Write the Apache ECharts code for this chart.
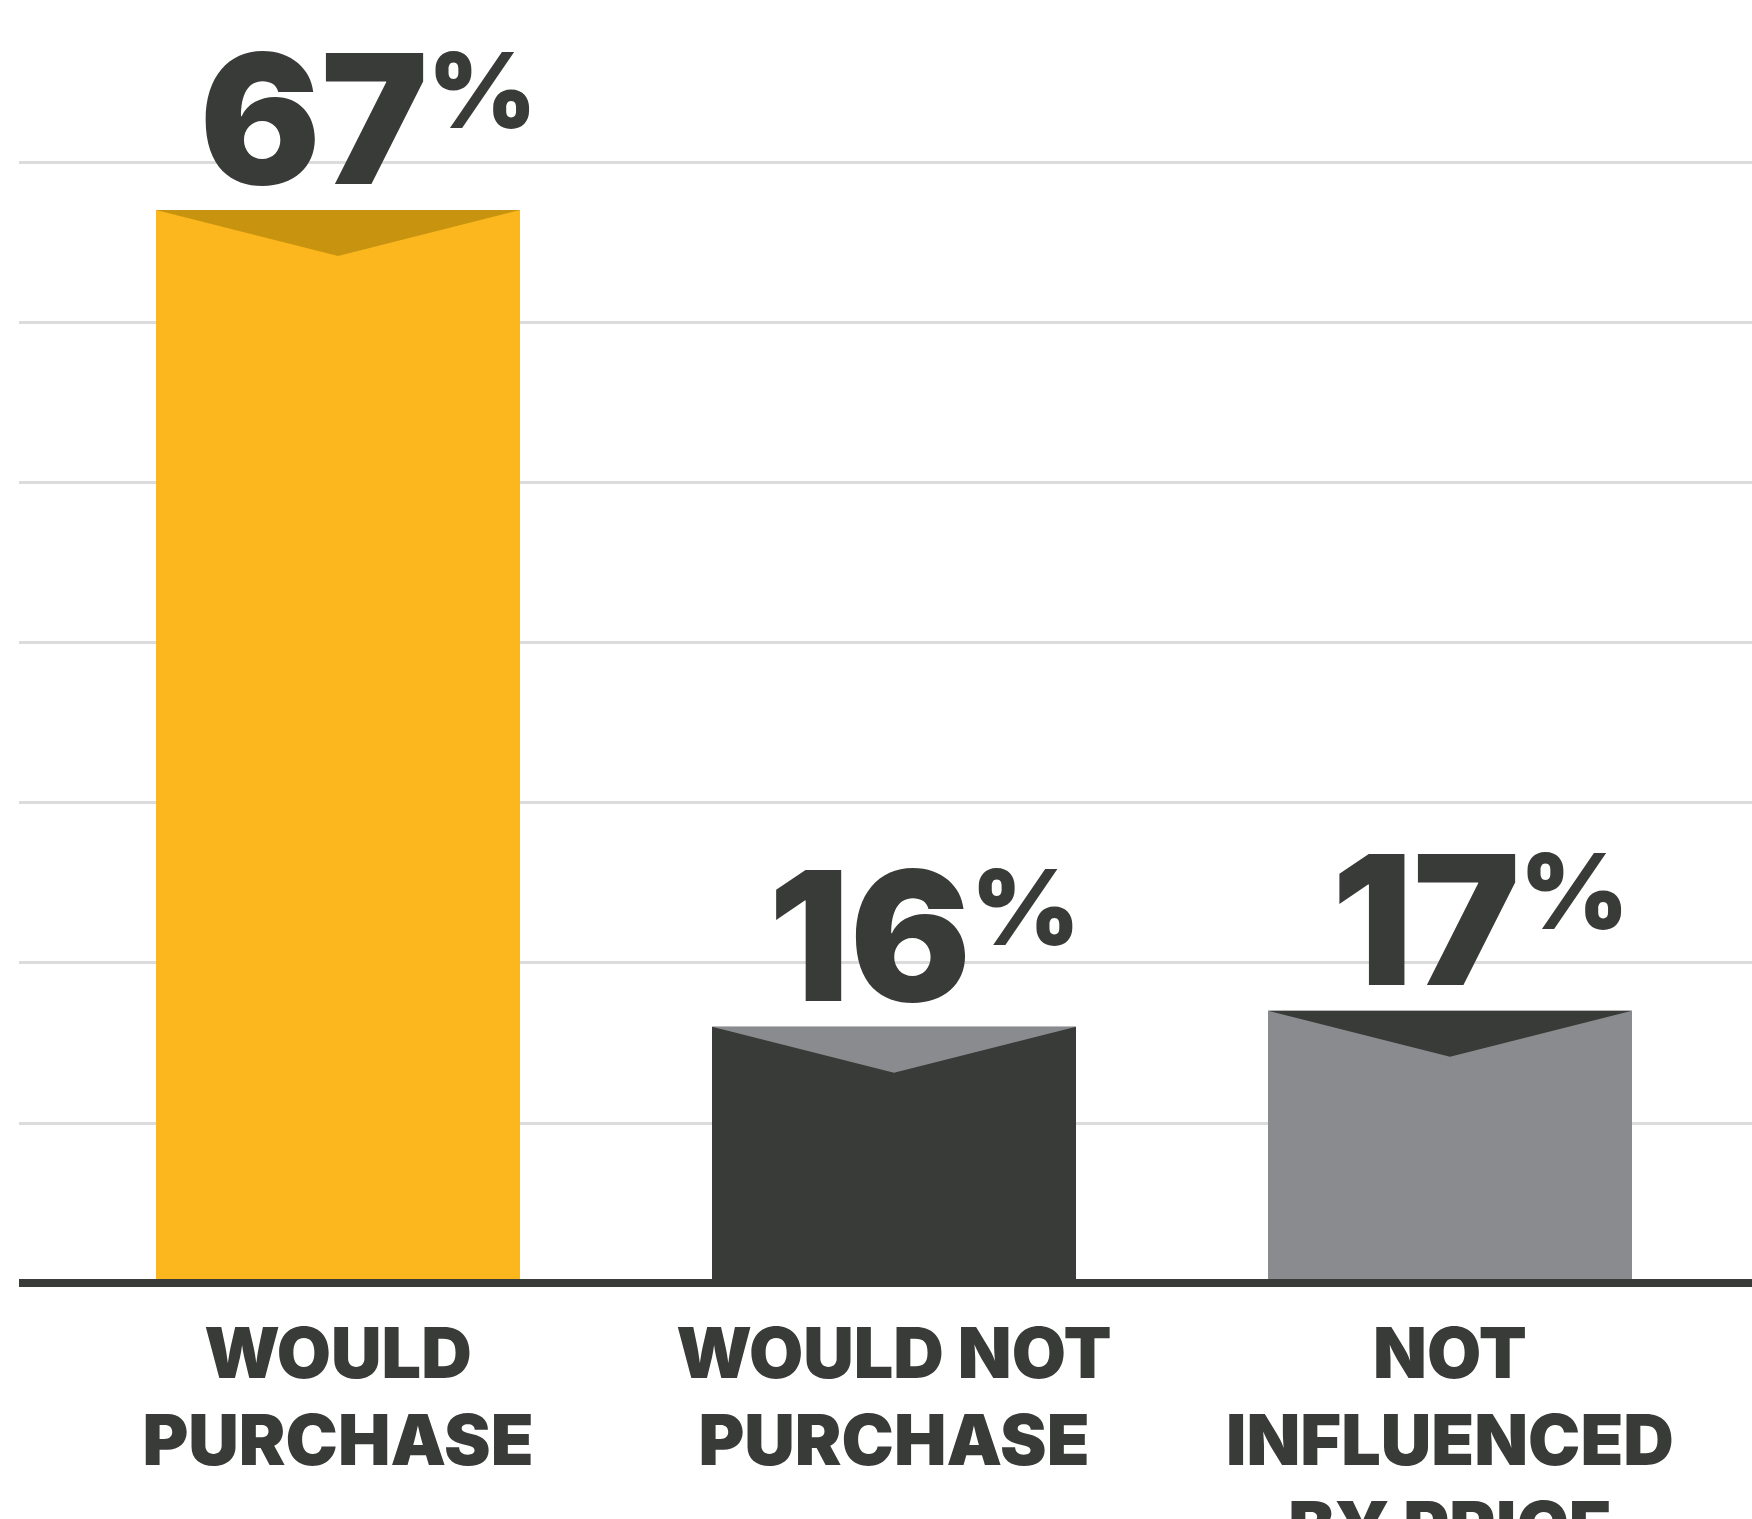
<!DOCTYPE html>
<html lang="en">
<head>
    <meta charset="UTF-8">
    <title>Purchase intent</title>
    <script src="https://cdn.jsdelivr.net/npm/echarts@6/dist/echarts.min.js"></script>
    <style>
        html, body { margin: 0; padding: 0; background: #fff; }
        #chart { width: 1752px; height: 1519px; }
    </style>
</head>
<body>
<div id="chart"></div>
<script type="text/javascript">
    // data
    var categories = ['WOULD\nPURCHASE', 'WOULD NOT\nPURCHASE', 'NOT\nINFLUENCED\nBY PRICE'];
    var values = [67, 16, 17];
    var yTicks = [0, 10, 20, 30, 40, 50, 60, 70];

    // colours: bar body and the notch at the top of each bar
    var barColors = ['#FDB71E', '#393B38', '#8A8B8E'];
    var notchColors = ['#C8940F', '#8A8B8E', '#393B38'];
    var dark = '#393B38';
    var BAR_W = 364;
    var NOTCH = 46;

    var myChart = echarts.init(document.getElementById('chart'));

    var yMax = yTicks[yTicks.length - 1];
    var yStep = yTicks[1] - yTicks[0];

    myChart.setOption({
        animation: false,
        backgroundColor: '#fff',
        grid: [
            // background grid: gridlines + base line, full width
            { left: 19, right: 0, top: 162, bottom: 236, outerBoundsMode: 'none', containLabel: false },
            // bars
            { left: 60, right: 24, top: 162, bottom: 236, outerBoundsMode: 'none', containLabel: false }
        ],
        xAxis: [
            {
                type: 'value', gridIndex: 0, min: 0, max: 1,
                z: 10,
                axisLine: { show: true, lineStyle: { color: dark, width: 8, cap: 'butt' } },
                axisTick: { show: false },
                axisLabel: { show: false },
                splitLine: { show: false }
            },
            {
                type: 'category', gridIndex: 1, data: categories,
                axisLine: { show: false },
                axisTick: { show: false },
                axisLabel: {
                    margin: 30,
                    color: dark,
                    fontFamily: 'Inter',
                    fontWeight: 900,
                    fontSize: 70,
                    lineHeight: 87,
                    interval: 0
                }
            }
        ],
        yAxis: [
            {
                type: 'value', gridIndex: 0, min: 0, max: yMax, interval: yStep,
                axisLine: { show: false }, axisTick: { show: false }, axisLabel: { show: false },
                splitLine: { show: true, lineStyle: { color: '#dcdcdc', width: 3 } }
            },
            {
                type: 'value', gridIndex: 1, min: 0, max: yMax, interval: yStep,
                axisLine: { show: false }, axisTick: { show: false }, axisLabel: { show: false },
                splitLine: { show: false }
            }
        ],
        series: [
            {
                type: 'bar',
                xAxisIndex: 1, yAxisIndex: 1,
                barWidth: BAR_W,
                data: values.map(function (v, i) {
                    return { value: v, itemStyle: { color: barColors[i] } };
                }),
                label: {
                    show: true,
                    position: 'top',
                    distance: -5,
                    offset: [30, 0],
                    formatter: function (p) { return '{n|' + p.value + '}{p|%}'; },
                    rich: {
                        n: { fontFamily: 'Inter', fontWeight: 900, fontSize: 180, color: dark, lineHeight: 170 },
                        p: { fontFamily: 'Inter', fontWeight: 900, fontSize: 104, color: dark, verticalAlign: 'top', lineHeight: 110 }
                    }
                }
            },
            {
                // darker V-notch at the top of each bar
                type: 'custom',
                xAxisIndex: 1, yAxisIndex: 1,
                z: 3,
                data: values.map(function (v, i) { return [i, v]; }),
                renderItem: function (params, api) {
                    var pt = api.coord([api.value(0), api.value(1)]);
                    var cx = pt[0], top = pt[1];
                    return {
                        type: 'polygon',
                        shape: { points: [[cx - BAR_W / 2, top], [cx + BAR_W / 2, top], [cx, top + NOTCH]] },
                        style: { fill: notchColors[params.dataIndex] }
                    };
                }
            }
        ]
    });
</script>
</body>
</html>
